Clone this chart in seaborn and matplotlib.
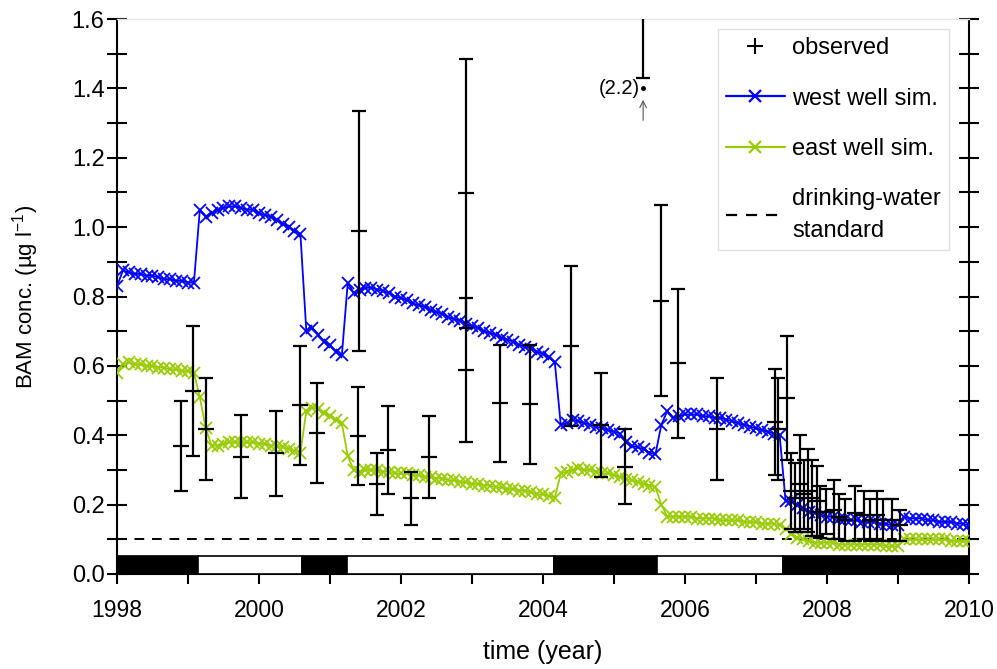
import matplotlib
matplotlib.use("Agg")
import matplotlib.pyplot as plt
from matplotlib.ticker import MultipleLocator, FormatStrFormatter
from matplotlib.lines import Line2D
import numpy as np
import seaborn as sns

# ── Data ──────────────────────────────────────────────────────────────

# simulation output, monthly steps from 1998.0 to 2010.0
sim_time = 1998 + np.arange(145) / 12

west_sim = (
    [0.83, 0.875, 0.87, 0.865, 0.865, 0.86, 0.86, 0.855, 0.85, 0.85, 0.845, 0.845, 0.84, 0.84]
    + [1.05, 1.03, 1.04, 1.05, 1.055, 1.06, 1.06, 1.055, 1.05, 1.05, 1.04, 1.035, 1.03, 1.02,
       1.01, 1.0, 0.99, 0.98]
    + [0.70, 0.71, 0.69, 0.67, 0.66, 0.64, 0.63]
    + [0.84, 0.81, 0.82, 0.825, 0.825, 0.82, 0.815, 0.81, 0.80, 0.795,
       0.79, 0.78, 0.775, 0.77, 0.76, 0.755, 0.75, 0.74, 0.735, 0.73,
       0.72, 0.715, 0.71, 0.70, 0.695, 0.69, 0.68, 0.675, 0.67, 0.66,
       0.655, 0.65, 0.64, 0.635, 0.625, 0.61]
    + [0.43, 0.435, 0.445, 0.44, 0.435, 0.43, 0.425, 0.42, 0.415, 0.41, 0.405,
       0.38, 0.37, 0.365, 0.36, 0.35, 0.345]
    + [0.43, 0.47, 0.45, 0.455, 0.46, 0.46, 0.46, 0.455, 0.455, 0.45, 0.45, 0.445, 0.44,
       0.435, 0.43, 0.425, 0.42, 0.415, 0.41, 0.405, 0.40]
    + [0.21, 0.21, 0.20, 0.19, 0.18, 0.175, 0.17, 0.165, 0.165, 0.16, 0.16, 0.155, 0.155,
       0.15, 0.15, 0.15, 0.145, 0.145, 0.14, 0.14]
    + [0.165, 0.16, 0.16, 0.16, 0.155, 0.155, 0.15, 0.15, 0.15, 0.145, 0.145, 0.14]
)

east_sim = (
    [0.58, 0.605, 0.61, 0.605, 0.605, 0.60, 0.60, 0.595, 0.595, 0.59, 0.59, 0.585, 0.585, 0.58]
    + [0.51, 0.42, 0.37, 0.37, 0.375, 0.38, 0.38, 0.38, 0.38, 0.38, 0.375, 0.375, 0.37, 0.37,
       0.365, 0.36, 0.355, 0.35]
    + [0.47, 0.48, 0.475, 0.465, 0.455, 0.445, 0.435]
    + [0.34, 0.30, 0.295, 0.30, 0.30, 0.30, 0.295, 0.295, 0.29, 0.29,
       0.29, 0.285, 0.285, 0.28, 0.28, 0.275, 0.275, 0.27, 0.27, 0.265,
       0.265, 0.26, 0.26, 0.255, 0.255, 0.25, 0.25, 0.245, 0.245, 0.24,
       0.24, 0.235, 0.23, 0.23, 0.225, 0.22]
    + [0.29, 0.295, 0.30, 0.305, 0.30, 0.30, 0.295, 0.29, 0.29, 0.285, 0.28, 0.275, 0.27,
       0.265, 0.26, 0.255, 0.25]
    + [0.20, 0.165, 0.165, 0.165, 0.165, 0.165, 0.16, 0.16, 0.16, 0.16, 0.155, 0.155, 0.155,
       0.155, 0.15, 0.15, 0.15, 0.145, 0.145, 0.145, 0.14]
    + [0.13, 0.115, 0.105, 0.10, 0.095, 0.09, 0.09, 0.09, 0.09, 0.085, 0.085, 0.085, 0.085,
       0.085, 0.085, 0.085, 0.085, 0.08, 0.08, 0.08]
    + [0.10, 0.10, 0.10, 0.10, 0.10, 0.10, 0.10, 0.10, 0.095, 0.095, 0.095, 0.095]
)

# observed BAM concentrations: time, mean, half-range of the bar
obs_time = [1998.90, 1999.07, 1999.25, 1999.74, 2000.24, 2000.58, 2000.82, 2001.41, 2001.39,
            2001.66, 2001.82, 2002.14, 2002.39, 2002.91, 2002.91, 2003.40, 2003.81, 2004.39,
            2004.82, 2005.15, 2005.41, 2005.66, 2005.90, 2006.45, 2007.27, 2007.31, 2007.43,
            2007.50, 2007.55, 2007.62, 2007.68, 2007.73, 2007.79, 2007.86, 2007.90, 2007.99,
            2008.10, 2008.17, 2008.25, 2008.39, 2008.52, 2008.61, 2008.70, 2008.79, 2008.91,
            2009.03]
obs_mean = [0.369, 0.528, 0.417, 0.338, 0.348, 0.486, 0.407, 0.989, 0.398,
            0.259, 0.358, 0.218, 0.338, 1.097, 0.588, 0.492, 0.489, 0.658,
            0.430, 0.309, 2.2, 0.788, 0.607, 0.418, 0.437, 0.418, 0.508,
            0.240, 0.220, 0.260, 0.230, 0.240, 0.220, 0.210, 0.180, 0.180,
            0.185, 0.165, 0.155, 0.175, 0.170, 0.155, 0.170, 0.155, 0.155,
            0.140]
obs_err = [0.131, 0.187, 0.147, 0.120, 0.122, 0.172, 0.144, 0.347, 0.140,
           0.090, 0.126, 0.077, 0.118, 0.388, 0.207, 0.168, 0.172, 0.230,
           0.150, 0.108, 0.77, 0.276, 0.214, 0.146, 0.153, 0.146, 0.179,
           0.110, 0.100, 0.140, 0.100, 0.120, 0.110, 0.100, 0.075, 0.065,
           0.085, 0.065, 0.060, 0.080, 0.070, 0.060, 0.070, 0.060, 0.060,
           0.045]

standard = 0.1

# pumping regime bar along the bottom
regime_edges = [1998, 1999.14, 2000.6, 2001.24, 2004.15, 2005.6, 2007.38, 2010]
regime_colors = ["black", "white", "black", "white", "black", "white", "black"]

WEST = "#0000ff"
EAST = "#99cc00"

# ── Plot ──────────────────────────────────────────────────────────────

sns.set_theme(style="ticks")
plt.rcParams["font.family"] = ["Liberation Sans", "DejaVu Sans"]
plt.rcParams["mathtext.default"] = "regular"
plt.rcParams["text.color"] = "black"
plt.rcParams["axes.labelcolor"] = "black"
plt.rcParams["xtick.labelcolor"] = "black"
plt.rcParams["ytick.labelcolor"] = "black"

fig = plt.figure(figsize=(9.97, 6.69), dpi=100)
ax = fig.add_axes([117 / 997, 1 - 574 / 669, (969 - 117) / 997, (574 - 19) / 669])

sns.lineplot(x=sim_time, y=west_sim, ax=ax, color=WEST, lw=1.3, marker="x", markersize=8,
             mec=WEST, mew=1.3, sort=False, estimator=None, zorder=3)
sns.lineplot(x=sim_time, y=east_sim, ax=ax, color=EAST, lw=1.3, marker="x", markersize=8,
             mec=EAST, mew=1.3, sort=False, estimator=None, zorder=3)

ax.errorbar(obs_time, obs_mean, yerr=obs_err, fmt="none", ecolor="black", elinewidth=1.6,
            capsize=5, capthick=1.6, zorder=4)
ax.plot(obs_time, obs_mean, ls="none", marker="_", ms=12, mew=1.6, color="black", zorder=4)

ax.axhline(standard, color="black", lw=1.4, ls=(0, (5, 4)), zorder=2)

for left, right, c in zip(regime_edges[:-1], regime_edges[1:], regime_colors):
    ax.barh(0.026, right - left, left=left, height=0.05, color=c, edgecolor="black",
            linewidth=1.2, zorder=5)

# off-scale observation
ax.plot([2005.41], [1.40], ls="none", marker="o", ms=2.5, color="black")
ax.text(2005.37, 1.40, "(2.2)", ha="right", va="center", fontsize=14.5)
ax.annotate("", xy=(2005.41, 1.375), xytext=(2005.41, 1.30),
            arrowprops=dict(arrowstyle="->", color="#555555", lw=0.8))

ax.set_xlim(1998, 2010)
ax.set_ylim(0, 1.6)
ax.xaxis.set_major_locator(MultipleLocator(2))
ax.xaxis.set_minor_locator(MultipleLocator(1))
ax.yaxis.set_major_locator(MultipleLocator(0.2))
ax.yaxis.set_minor_locator(MultipleLocator(0.1))
ax.yaxis.set_major_formatter(FormatStrFormatter("%.1f"))

ax.tick_params(axis="y", which="both", direction="inout", length=14, width=1.5,
               left=True, right=True, labelsize=17, pad=2, color="black")
ax.tick_params(axis="x", which="both", direction="out", length=7, width=1.5,
               labelsize=16.5, pad=11, color="black")

for side in ["left", "right", "bottom"]:
    ax.spines[side].set_color("black")
    ax.spines[side].set_linewidth(1.5)
    ax.spines[side].set_visible(True)
ax.spines["top"].set_color("#e6e6e6")
ax.spines["top"].set_linewidth(1.0)

ax.set_xlabel("time (year)", fontsize=18, labelpad=13)
ax.set_ylabel("BAM conc. (µg l$^{-1}$)", fontsize=16, labelpad=22)

handles = [
    Line2D([], [], ls="none", marker="+", ms=12, mew=1.5, color="black"),
    Line2D([], [], color=WEST, lw=1.6, marker="x", ms=9, mew=1.6),
    Line2D([], [], color=EAST, lw=1.6, marker="x", ms=9, mew=1.6),
    Line2D([], [], color="black", lw=1.6, ls=(0, (5, 4))),
]
labels = ["observed", "west well sim.", "east well sim.", "drinking-water\nstandard"]
leg = ax.legend(handles, labels, loc="upper right", bbox_to_anchor=(0.9765, 0.982),
                borderaxespad=0, fontsize=17, frameon=True, fancybox=False,
                edgecolor="#d9d9d9", handlelength=2.5, handletextpad=0.3,
                labelspacing=1.2, borderpad=0.35)
leg.get_frame().set_linewidth(1.0)
for t in leg.get_texts():
    t.set_color("black")
    t.set_linespacing(1.55)

fig.savefig("out.png", dpi=100)
